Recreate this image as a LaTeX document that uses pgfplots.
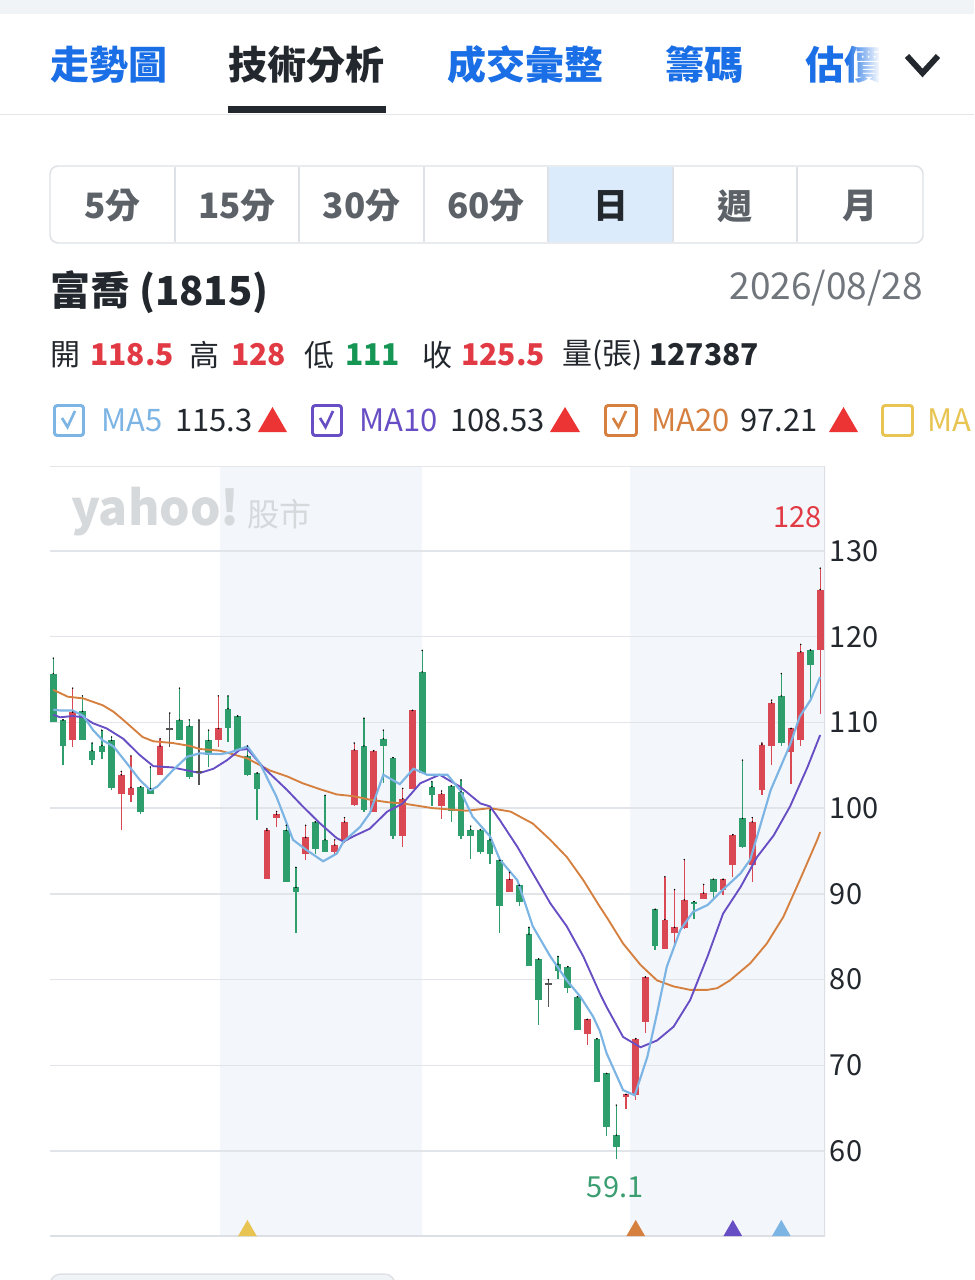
\documentclass[border=0pt]{standalone}
\usepackage{pgfplots}
\pgfplotsset{compat=1.18}
\usepackage{pgfplotstable}
\usepackage{fontspec}
\setmainfont{Noto Sans CJK TC}
\usetikzlibrary{fadings}
\definecolor{cStrip}{RGB}{241,244,247}
\definecolor{cBlue}{RGB}{26,110,230}
\definecolor{cDark}{RGB}{35,40,46}
\definecolor{cGrayT}{RGB}{92,98,104}
\definecolor{cDate}{RGB}{112,118,124}
\definecolor{cSep}{RGB}{228,231,234}
\definecolor{cBtn}{RGB}{222,226,230}
\definecolor{cSel}{RGB}{220,235,251}
\definecolor{cRedT}{RGB}{226,58,68}
\definecolor{cGreenT}{RGB}{22,150,84}
\definecolor{cTri}{RGB}{236,52,52}
\definecolor{cUp}{RGB}{218,72,84}
\definecolor{cDown}{RGB}{46,158,108}
\definecolor{cFlat}{RGB}{85,85,85}
\definecolor{cMAa}{RGB}{124,180,228}
\definecolor{cMAb}{RGB}{104,78,196}
\definecolor{cMAc}{RGB}{214,128,64}
\definecolor{cMAd}{RGB}{232,196,82}
\definecolor{cBand}{RGB}{243,246,250}
\definecolor{cGrid}{RGB}{225,228,232}
\definecolor{cAxis}{RGB}{220,223,227}
\definecolor{cWater}{RGB}{214,217,220}
\definecolor{cLow}{RGB}{58,158,112}
\tikzfading[name=fadeR, left color=transparent!100, right color=transparent!0]

% i = candle index, o h l c = open high low close
\pgfplotstableread{
i o h l c
2 107.9 114.0 107.1 111.2
7 101.6 104.3 97.5 103.9
8 101.5 106.1 100.7 102.4
11 103.9 108.1 103.9 107.25
17 107.9 113.1 107.1 109.3
22 91.7 97.6 91.7 97.4
23 98.8 99.6 97.8 99.3
26 94.6 98.0 94.0 96.6
29 94.9 96.3 94.6 95.7
30 96.3 98.9 95.9 98.4
31 100.4 107.6 100.2 106.8
33 99.6 106.7 99.6 106.7
36 96.7 102.3 95.5 101.1
37 102.2 111.4 102.2 111.4
40 100.2 102.0 98.7 101.7
47 90.25 92.5 90.25 91.7
55 73.7 75.35 72.4 75.35
59 66.25 66.6 64.85 66.6
60 66.5 73.1 66.0 73.1
61 75.1 80.3 73.8 80.3
63 83.6 92.0 83.6 87.0
64 85.4 90.5 84.2 86.1
65 86.0 94.0 85.9 89.3
67 89.35 91.1 89.35 90.1
69 90.5 91.7 89.9 91.7
70 93.4 96.9 92.0 96.9
72 93.4 98.9 91.4 98.4
73 102.1 107.6 101.5 107.4
74 107.2 112.6 105.0 112.3
76 106.6 109.3 102.8 109.3
77 107.9 119.1 107.2 118.25
79 118.5 128.0 111.0 125.5
}\upTable

\pgfplotstableread{
i o h l c
0 115.7 117.5 110.1 110.1
1 110.3 110.3 105.0 107.2
3 111.3 113.1 107.9 107.9
4 106.7 107.6 105.0 105.6
5 107.3 109.1 105.7 106.5
6 107.9 108.3 102.1 102.3
9 102.5 102.5 99.3 99.5
10 102.3 104.8 101.6 101.6
13 110.3 114.0 107.9 107.9
14 109.6 110.3 103.4 103.6
16 107.9 109.1 104.8 106.2
18 111.6 113.1 107.75 109.4
19 110.75 110.75 106.8 106.8
20 106.1 107.25 103.7 103.9
21 104.1 104.1 98.6 102.2
24 97.4 98.0 91.4 91.4
25 90.75 93.1 85.4 90.2
27 98.4 98.4 94.6 95.2
28 96.3 101.5 94.9 94.9
32 107.25 110.5 99.6 99.8
34 108.1 109.1 102.9 107.2
35 105.9 105.9 96.4 96.7
38 115.9 118.4 104.1 104.1
39 102.5 103.1 100.2 101.5
41 102.6 102.6 98.4 99.7
42 101.9 103.3 96.4 96.7
43 97.5 97.9 94.1 96.7
44 97.5 97.5 94.6 94.9
45 96.3 99.8 93.5 94.6
46 93.9 93.9 85.4 88.6
48 91.0 91.0 88.6 89.1
49 85.3 86.1 81.6 81.6
50 82.4 82.4 74.7 77.6
52 81.8 82.7 80.1 81.0
53 81.5 81.5 78.4 79.0
54 78.0 78.0 74.1 74.1
56 73.1 73.1 68.0 68.0
57 69.05 69.05 61.7 62.75
58 61.85 65.35 59.1 60.5
62 88.2 88.2 83.4 83.9
66 89.1 89.1 87.1 88.8
68 91.7 91.7 89.3 90.25
71 98.8 105.6 95.3 95.5
75 113.1 115.7 107.2 107.6
78 118.45 118.45 112.4 116.7
}\downTable

\pgfplotstableread{
i o h l c
12 109.2 111.1 107.1 109.2
15 104.25 110.3 102.7 104.25
51 79.5 80.0 76.8 79.5
}\flatTable

\pgfplotsset{
  candle/.style={only marks, mark=*, mark size=0.3pt,
    mark options={draw=none, fill=none},
    error bars/.cd, y dir=minus, y explicit, error mark=none,
    error bar style={draw=#1}},
  xmark/.style={only marks, mark=triangle*, mark size=7.8pt,
    mark options={draw=#1, fill=#1, line width=0.3pt}},
}

\begin{document}
\begin{tikzpicture}
\clip[x=0.75pt,y=-0.75pt] (0,0) rectangle (974,1280);
\begin{scope}[x=0.75pt,y=-0.75pt, every node/.style={inner sep=0pt, outer sep=0pt}]
\fill[white] (0,0) rectangle (974,1280);
\fill[cStrip] (0,0) rectangle (974,14);
% tabs
\node[anchor=west, text=cBlue, font=\fontsize{29.25}{29.25}\selectfont\bfseries] at (50,65) {走勢圖};
\node[anchor=west, text=cDark, font=\fontsize{29.25}{29.25}\selectfont\bfseries] at (228,65) {技術分析};
\node[anchor=west, text=cBlue, font=\fontsize{29.25}{29.25}\selectfont\bfseries] at (447,65) {成交彙整};
\node[anchor=west, text=cBlue, font=\fontsize{29.25}{29.25}\selectfont\bfseries] at (665,65) {籌碼};
\node[anchor=west, text=cBlue, font=\fontsize{29.25}{29.25}\selectfont\bfseries] at (805,65) {估價};
\fill[white, path fading=fadeR] (846,30) rectangle (880,100);
\fill[white] (879,30) rectangle (900,100);
\draw[cDark, line width=4.4pt] (907,56) -- (922.5,73) -- (938,56);
\fill[cDark] (228,106) rectangle (386,113);
\draw[cSep, line width=1.2pt] (0,114.5) -- (974,114.5);
% period buttons
\fill[cSel] (548,167) rectangle (673,242);
\draw[cBtn, line width=1.1pt, rounded corners=6pt] (50,166) rectangle (923,243);
\foreach \xx in {175,299,424,548,673,797} {\draw[cBtn, line width=1.1pt] (\xx,167) -- (\xx,242);}
\foreach \xx/\tt in {112.5/5分,237/15分,361.5/30分,486/60分,735/週,860/月}
  {\node[text=cGrayT, font=\fontsize{26.25}{26.25}\selectfont\bfseries] at (\xx,206) {\tt};}
\node[text=cDark, font=\fontsize{26.25}{26.25}\selectfont\bfseries] at (610.5,206) {日};
% title
\node[anchor=west, text=cDark, font=\fontsize{30}{30}\selectfont\bfseries] at (50,292) {富喬 (1815)};
\node[anchor=east, text=cDate, font=\fontsize{27.75}{27.75}\selectfont] at (923,288) {2026/08/28};
% OHLC row
\begin{scope}[every node/.style={inner sep=0pt, anchor=west, font=\fontsize{22.5}{22.5}\selectfont}]
\node[text=cDark] at (50,355) {開};
\node[text=cRedT, font=\fontsize{22.5}{22.5}\selectfont\bfseries] at (90,355) {118.5};
\node[text=cDark] at (189,355) {高};
\node[text=cRedT, font=\fontsize{22.5}{22.5}\selectfont\bfseries] at (231,355) {128};
\node[text=cDark] at (304,355) {低};
\node[text=cGreenT, font=\fontsize{22.5}{22.5}\selectfont\bfseries] at (345,355) {111};
\node[text=cDark] at (422,355) {收};
\node[text=cRedT, font=\fontsize{22.5}{22.5}\selectfont\bfseries] at (461,355) {125.5};
\node[text=cDark] at (562,355) {量(張)};
\node[text=cDark, font=\fontsize{22.5}{22.5}\selectfont\bfseries] at (649,355) {127387};
\end{scope}
% MA legend row
\begin{scope}[every node/.style={inner sep=0pt, anchor=west, font=\fontsize{23.25}{23.25}\selectfont}]
\draw[cMAa, line width=2.2pt, rounded corners=2pt] (54.5,405.5) rectangle (83.5,435.5);
\draw[cMAa, line width=2pt] (62,418) -- (67.5,427) -- (75,411);
\node[text=cMAa] at (101,420) {MA5};
\node[text=cDark] at (175,420) {115.3};
\fill[cTri] (258,432) -- (287,432) -- (272.5,407) -- cycle;
\draw[cMAb, line width=2.2pt, rounded corners=2pt] (312.5,405.5) rectangle (341.5,435.5);
\draw[cMAb, line width=2pt] (320,418) -- (325.5,427) -- (333,411);
\node[text=cMAb] at (359,420) {MA10};
\node[text=cDark] at (450,420) {108.53};
\fill[cTri] (550,432) -- (580,432) -- (565,407) -- cycle;
\draw[cMAc, line width=2.2pt, rounded corners=2pt] (605.5,405.5) rectangle (636.5,435.5);
\draw[cMAc, line width=2pt] (613,418) -- (618.5,427) -- (626,411);
\node[text=cMAc] at (651,420) {MA20};
\node[text=cDark] at (740,420) {97.21};
\fill[cTri] (829,432) -- (858,432) -- (843.5,407) -- cycle;
\draw[cMAd, line width=2.2pt, rounded corners=2pt] (882.5,405.5) rectangle (912.5,435.5);
\node[overlay, text=cMAd] at (927,420) {MA};
\end{scope}
% bottom pill
\draw[overlay, cBtn, fill=cStrip, line width=1.1pt, rounded corners=8pt] (50,1274) rectangle (395,1310);
\end{scope}

\begin{axis}[
  at={(37.5pt,-349.5pt)}, anchor=north west,
  scale only axis, width=581.25pt, height=577.5pt,
  xmin=-0.34, xmax=79.5, ymin=50.08, ymax=139.92,
  xtick=\empty, ytick={60,70,...,130},
  yticklabel pos=right,
  yticklabel style={anchor=west, xshift=3.5pt, inner sep=0pt, text=cDark,
    font=\fontsize{21.75}{21.75}\selectfont},
  /pgf/number format/assume math mode=true,
  major tick length=0pt,
  axis line style={draw=none},
]
% shaded month bands
\addplot[draw=none, fill=cBand, forget plot] coordinates {(17.18,50.08)(17.18,139.92)(38.0,139.92)(38.0,50.08)} -- cycle;
\addplot[draw=none, fill=cBand, forget plot] coordinates {(59.42,50.08)(59.42,139.92)(79.5,139.92)(79.5,50.08)} -- cycle;
% grid lines
\foreach \g in {60,70,...,130} {\edef\tmp{\noexpand\draw[cGrid, line width=1.1pt] (axis cs:-0.34,\g) -- (axis cs:79.5,\g);}\tmp}
% watermark
\node[anchor=west, inner sep=0pt, text=cWater, font=\fontsize{36}{36}\selectfont\bfseries] at (axis cs:1.8,134.6) {yahoo!};
\node[anchor=west, inner sep=0pt, text=cWater, font=\fontsize{24}{24}\selectfont] at (axis cs:19.96,134.3) {股市};
% wicks
\addplot[candle=cUp, error bar style={line width=1pt}]
  table[x=i, y=h, y error expr=\thisrow{h}-\thisrow{l}] {\upTable};
\addplot[candle=cDown, error bar style={line width=1pt}]
  table[x=i, y=h, y error expr=\thisrow{h}-\thisrow{l}] {\downTable};
\addplot[candle=cFlat, error bar style={line width=1pt}]
  table[x=i, y=h, y error expr=\thisrow{h}-\thisrow{l}] {\flatTable};
% bodies
\addplot[candle=cUp, error bar style={line width=5pt}]
  table[x=i, y=c, y error expr=\thisrow{c}-\thisrow{o}] {\upTable};
\addplot[candle=cDown, error bar style={line width=5pt}]
  table[x=i, y=o, y error expr=\thisrow{o}-\thisrow{c}] {\downTable};
\addplot[only marks, mark=-, mark size=2.5pt, mark options={draw=cFlat, line width=1.4pt}]
  table[x=i, y=c] {\flatTable};
% moving averages
\addplot[cMAc, line width=1.4pt, mark=none] coordinates {
(0,113.8)(1.5,113.0)(3.1,112.8)(5.1,112.0)(6.2,111.25)(7.2,110.3)(8.2,109.3)(9.2,108.3)
(10.3,107.8)(12.3,107.6)(14.1,107.25)(15.1,106.9)(17.2,106.7)(20.0,105.8)(22.3,104.4)
(24.1,103.7)(25.7,102.9)(27.5,102.2)(29.2,101.6)(30.9,101.4)(32.6,101.0)(34.4,100.7)
(36.0,100.55)(39.1,100.0)(42.6,99.7)(45.0,100.0)(47.1,99.6)(49.4,98.2)(51.2,96.3)
(52.9,94.3)(54.6,91.6)(56.3,88.5)(57.0,87.3)(58.7,84.2)(60.5,81.7)(62.2,79.9)(63.9,79.2)
(65.6,78.8)(67.4,78.8)(68.4,79.0)(69.7,79.9)(71.8,81.9)(73.5,84.2)(75.2,87.3)(76.9,91.6)
(78.7,96.3)(79,97.21)};
\addplot[cMAb, line width=1.4pt, mark=none] coordinates {
(0,110.9)(0.7,110.6)(2.0,110.75)(3.1,110.6)(4.1,109.9)(5.5,109.3)(7.2,108.1)(8.9,106.2)
(10.3,104.9)(12.3,104.75)(13.8,104.4)(15.1,104.1)(16.5,104.6)(17.9,105.6)(19.2,106.8)
(20.0,106.9)(21.6,104.8)(24.1,102.1)(25.7,100.2)(27.5,98.2)(29.2,96.5)(29.9,96.1)
(30.9,96.7)(32.6,97.6)(34.4,99.6)(36.0,100.55)(37.8,102.9)(39.8,103.9)(41.9,102.5)
(44.0,100.55)(45.0,100.2)(46.0,98.6)(47.8,95.5)(49.4,92.4)(51.2,88.9)(52.9,86.2)
(54.6,82.7)(56.3,78.4)(57.0,76.8)(58.7,73.3)(60.5,72.1)(62.2,72.9)(63.9,74.5)(65.6,77.6)
(67.4,82.7)(69.0,87.7)(70.8,90.8)(72.5,94.3)(74.2,96.8)(75.9,100.2)(77.7,104.8)(79,108.53)};
\addplot[cMAa, line width=1.6pt, mark=none] coordinates {
(0,111.5)(0.7,111.4)(2.0,111.4)(3.1,110.75)(4.1,109.1)(5.1,107.9)(6.2,107.2)(7.6,105.2)
(8.9,103.3)(10.0,102.1)(10.7,102.5)(12.3,104.4)(13.8,106.0)(15.1,106.4)(17.2,106.3)
(18.2,106.5)(20.0,107.2)(21.3,105.2)(23.0,101.3)(24.7,96.3)(26.1,95.1)(27.8,93.8)
(29.2,94.7)(29.9,96.1)(31.6,97.8)(32.6,99.4)(34.0,103.9)(35.7,102.8)(37.1,104.6)
(38.5,103.9)(40.6,103.9)(41.9,102.1)(43.2,99.0)(45.0,96.7)(46.0,94.0)(47.8,91.6)
(49.4,86.2)(51.2,82.7)(52.9,79.9)(54.3,78.0)(55.6,75.7)(56.3,74.0)(57.0,71.4)(58.7,67.1)
(59.9,66.5)(61.2,71.0)(62.2,76.1)(63.2,81.5)(64.6,85.8)(65.9,87.9)(67.4,88.7)(69.0,90.5)
(70.8,92.4)(71.8,94.0)(73.9,102.1)(75.9,107.4)(76.9,110.7)(78.0,112.6)(79,115.3)};
% crossover markers
\addplot[xmark=cMAd] coordinates {(20,50.69)};
\addplot[xmark=cMAc] coordinates {(60,50.69)};
\addplot[xmark=cMAb] coordinates {(70,50.69)};
\addplot[xmark=cMAa] coordinates {(75,50.69)};
% frame
\draw[cSep, line width=1.1pt] (axis cs:-0.34,139.92) -- (axis cs:79.5,139.92);
\draw[cAxis, line width=1.5pt] (axis cs:-0.34,50.08) -- (axis cs:79.5,50.08) -- (axis cs:79.5,139.92);
% extreme labels
\node[anchor=east, inner sep=0pt, text=cRedT, font=\fontsize{21.75}{21.75}\selectfont] at (axis cs:79.15,133.97) {128};
\node[inner sep=0pt, text=cLow, font=\fontsize{21.75}{21.75}\selectfont] at (axis cs:57.88,55.79) {59.1};
\end{axis}
\end{tikzpicture}
\end{document}
